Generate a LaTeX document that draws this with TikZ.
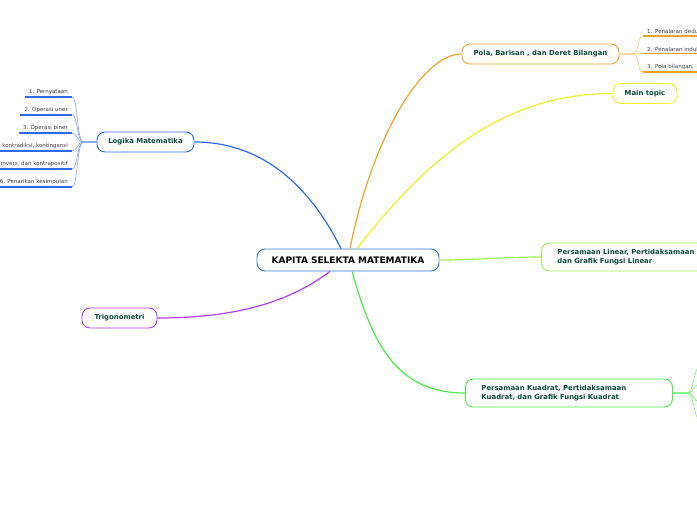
\documentclass[tikz,border=0pt]{standalone}
\usepackage{fontspec}
\setmainfont{DejaVu Sans}
\usetikzlibrary{positioning}

\definecolor{txtgreen}{RGB}{10,72,56}
\definecolor{rootblue}{RGB}{52,120,196}
\definecolor{logblue}{RGB}{46,104,245}
\definecolor{polaorange}{RGB}{247,162,45}
\definecolor{mainyellow}{RGB}{240,240,40}
\definecolor{lingreen}{RGB}{158,240,80}
\definecolor{kuadgreen}{RGB}{70,238,70}
\definecolor{trigpurple}{RGB}{178,60,245}

\begin{document}
\begin{tikzpicture}[
    x=1pt, y=-1pt,
    root/.style={rectangle, rounded corners=8pt, draw=rootblue, line width=0.9pt, minimum width=182pt, minimum height=22pt, font=\fontsize{9}{10}\selectfont\bfseries, text=black},
    topic/.style={rectangle, rounded corners=8pt, draw, line width=0.9pt, minimum height=20pt, font=\fontsize{6.9}{9}\selectfont\bfseries, text=txtgreen},
    leaf/.style={inner xsep=4pt, inner ysep=2pt, font=\fontsize{5.5}{6}\selectfont, text=black!75},
    branch/.style={line width=1.2pt},
    fan/.style={line width=0.6pt}
]
    \path[use as bounding box, clip] (0,0) rectangle (697,520);

    \node[root] (kapita) at (348,260) {KAPITA SELEKTA MATEMATIKA};

    \node[topic, draw=polaorange, minimum width=157pt] (pola) at (540.5,54) {Pola, Barisan , dan Deret Bilangan};
    \node[topic, draw=mainyellow, minimum width=64pt] (main) at (645,93.5) {Main topic};
    \node[topic, draw=lingreen, anchor=west, text width=160pt, inner xsep=16pt, minimum height=28pt, align=left] (linear) at (541,257) {Persamaan Linear, Pertidaksamaan\\dan Grafik Fungsi Linear};
    \node[topic, draw=kuadgreen, anchor=west, text width=175pt, inner xsep=16pt, minimum height=28pt, align=left] (kuadrat) at (465,393) {Persamaan Kuadrat, Pertidaksamaan\\Kuadrat, dan Grafik Fungsi Kuadrat};
    \node[topic, draw=logblue, minimum width=97pt] (logika) at (145.5,142) {Logika Matematika};
    \node[topic, draw=trigpurple, minimum width=75pt] (trigo) at (119.5,318) {Trigonometri};

    % main branches
    \draw[branch, logblue] ([xshift=-7pt]kapita.north) .. controls +(-30,-60) and +(70,0) .. (logika.east);
    \draw[branch, polaorange] ([xshift=2pt]kapita.north) .. controls +(22,-110) and +(-40,0) .. (pola.west);
    \draw[branch, mainyellow] ([xshift=9pt]kapita.north) .. controls +(70,-90) and +(-110,0) .. (main.west);
    \draw[branch, lingreen] (kapita.east) .. controls +(40,0) and +(-40,0) .. (linear.west);
    \draw[branch, kuadgreen] ([xshift=4pt]kapita.south) .. controls +(20,70) and +(-70,0) .. (kuadrat.west);
    \draw[branch, trigpurple] ([xshift=-18pt]kapita.south) .. controls +(-40,30) and +(80,0) .. (trigo.east);

    % Logika Matematika
    \node[leaf, anchor=south east] (l1) at (72,97) {1. Pernyataan};
    \node[leaf, anchor=south east] (l2) at (72,115) {2. Operasi uner};
    \node[leaf, anchor=south east] (l3) at (72,133) {3. Operasi biner};
    \node[leaf, anchor=south east] (l4) at (72,151) {4. Tautologi, kontradiksi, kontingensi};
    \node[leaf, anchor=south east] (l5) at (72,169) {5. Konvers, invers, dan kontrapositif};
    \node[leaf, anchor=south east] (l6) at (72,187) {6. Penarikan kesimpulan};
    \foreach \n in {l1,l2,l3,l4,l5,l6} {
        \draw[line width=1.3pt, logblue] (\n.south west) -- (\n.south east);
        \draw[fan, logblue!60] (logika.west) -- +(-13,0) .. controls +(-7,0) and +(6,0) .. (\n.south east);
    }

    % Pola, Barisan, dan Deret Bilangan
    \node[leaf, anchor=south west, text width=60pt] (p1) at (643,36) {1. Penalaran deduktif};
    \node[leaf, anchor=south west, text width=60pt] (p2) at (643,53.5) {2. Penalaran induktif};
    \node[leaf, anchor=south west, text width=60pt] (p3) at (643,72) {3. Pola bilangan,};
    \foreach \n in {p1,p2,p3} {
        \draw[line width=1.3pt, polaorange] (\n.south west) -- (\n.south east);
        \draw[fan, polaorange!60] (pola.east) -- +(13,0) .. controls +(7,0) and +(-6,0) .. (\n.south west);
    }

    % Persamaan Kuadrat
    \coordinate (k1) at (700,366);
    \coordinate (k2) at (700,384);
    \coordinate (k3) at (700,402);
    \coordinate (k4) at (700,420);
    \foreach \n in {k1,k2,k3,k4} {
        \draw[fan, kuadgreen!75] (kuadrat.east) -- +(14,0) .. controls +(7,0) and +(-6,0) .. (\n);
    }
\end{tikzpicture}
\end{document}
